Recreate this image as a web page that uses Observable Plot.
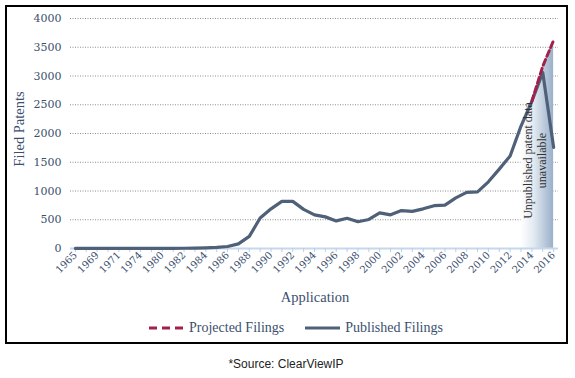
<!DOCTYPE html>
<html>
<head>
<meta charset="utf-8">
<script src="https://cdn.jsdelivr.net/npm/d3@7"></script>
<script src="https://cdn.jsdelivr.net/npm/@observablehq/plot@0.6"></script>
<style>
  html, body { margin: 0; padding: 0; background: #fff; }
  body { width: 575px; height: 378px; position: relative; overflow: hidden; }
  #frame { position: absolute; left: 5px; top: 5px; width: 563px; height: 339px; border: 2px solid #000; box-sizing: border-box; }
  #chart { position: absolute; left: 0; top: 0; }
  .lbl { position: absolute; font-family: "Liberation Serif", serif; color: #3b4f6e; white-space: nowrap; transform: translate(-50%, -50%); }
  #ylab { left: 19px; top: 129px; font-size: 14.5px; transform: translate(-50%, -50%) rotate(-90deg); }
  #xlab { left: 315px; top: 297px; font-size: 14.5px; }
  #legend { position: absolute; left: 149px; top: 320px; height: 16px; display: flex; align-items: center; font-family: "Liberation Serif", serif; font-size: 14px; color: #3b4f6e; }
  #legend svg { margin-right: 5px; }
  #caption { position: absolute; left: 286px; top: 364px; transform: translate(-50%, -50%); font-family: "Liberation Sans", sans-serif; font-size: 12px; color: #222; white-space: nowrap; }
</style>
</head>
<body>
<div id="frame"></div>
<div id="chart"></div>
<div class="lbl" id="ylab">Filed Patents</div>
<div class="lbl" id="xlab">Application</div>
<div id="legend"></div>
<div id="caption">*Source: ClearViewIP</div>
<script>
// ---- data ----
const years = ["1965","1967","1969","1970","1971","1973","1974","1977",
  "1980","1981","1982","1983","1984","1985","1986","1987","1988","1989",
  "1990","1991","1992","1993","1994","1995","1996","1997","1998","1999",
  "2000","2001","2002","2003","2004","2005","2006","2007","2008","2009",
  "2010","2011","2012","2013","2014","2015","2016"];
const published = [2,1,1,1,1,1,1,2,
  2,3,4,6,10,18,35,80,210,530,
  690,820,820,680,585,550,480,525,465,505,
  620,585,660,645,690,745,755,880,975,985,
  1160,1380,1610,2130,2560,3060,1760];
const projectedYears = ["2014","2015","2016"];
const projected = [2560,3170,3620];
const shadeYears = ["2013","2014","2015","2016"];
const shadeValues = [2130,2560,3170,3620];
const yTicks = [0,500,1000,1500,2000,2500,3000,3500,4000];
const xTickLabels = years.filter((d, i) => i % 2 === 0);
const seriesNames = ["Projected Filings", "Published Filings"];
const annotation = "Unpublished patent data\nunavailable";

// ---- tables ----
const pubData = years.map((y, i) => ({year: y, value: published[i]}));
const projData = projectedYears.map((y, i) => ({year: y, value: projected[i]}));
const shadeData = shadeYears.map((y, i) => ({year: y, value: shadeValues[i]}));
const gridData = yTicks.slice(1).map(v => ({value: v}));

const lineColor = "#4f6079";
const projColor = "#a3204a";
const textColor = "#3b4f6e";

const chart = Plot.plot({
  width: 575,
  height: 284,
  marginTop: 18,
  marginBottom: 36,
  marginLeft: 70,
  marginRight: 17,
  style: { fontFamily: "'DejaVu Serif', serif", color: textColor, background: "transparent" },
  x: { type: "point", domain: years, padding: 0.45, label: null },
  y: { domain: [0, 4000], label: null },
  marks: [
    Plot.ruleY(gridData, { y: "value", stroke: "#8c8c8c", strokeWidth: 1, strokeDasharray: "1,1.5" }),
    Plot.areaY(shadeData, { x: "year", y: "value", fill: "url(#shadeGrad)" }),
    Plot.ruleY([0], { stroke: "#c6d8ec", strokeWidth: 2 }),
    Plot.axisX({ ticks: years, tickSize: 4, stroke: "#b9cfe6", strokeOpacity: 1, tickFormat: () => "", label: null }),
    Plot.axisX({ ticks: xTickLabels, tickSize: 0, tickPadding: 5, tickRotate: -45, fontSize: 10, fill: textColor, label: null }),
    Plot.axisY({ ticks: yTicks, tickSize: 0, tickPadding: 9, fontSize: 11, fill: textColor, label: null, tickFormat: d => String(d) }),
    Plot.line(pubData, { x: "year", y: "value", stroke: lineColor, strokeWidth: 3.2, curve: "linear" }),
    Plot.line(projData, { x: "year", y: "value", stroke: projColor, strokeWidth: 3, strokeDasharray: "6,3.5" }),
    Plot.text([annotation], { x: () => "2014", y: () => 1530, text: d => d, rotate: -90, dx: 3,
      fontFamily: "'Liberation Serif', serif", fontSize: 12, fill: "#333", lineHeight: 1.1 })
  ]
});

const ns = "http://www.w3.org/2000/svg";
const defs = document.createElementNS(ns, "defs");
defs.innerHTML = '<linearGradient id="shadeGrad" x1="0" x2="1" y1="0" y2="0">' +
  '<stop offset="0" stop-color="#ffffff"/><stop offset="0.4" stop-color="#e3eaf2"/>' +
  '<stop offset="1" stop-color="#9ab0c9"/></linearGradient>';
chart.prepend(defs);
document.getElementById("chart").appendChild(chart);

// legend
const legend = document.getElementById("legend");
const swatch = (dash, color) => {
  const s = document.createElementNS(ns, "svg");
  s.setAttribute("width", 35); s.setAttribute("height", 6);
  const l = document.createElementNS(ns, "line");
  l.setAttribute("x1", 0); l.setAttribute("x2", 35); l.setAttribute("y1", 3); l.setAttribute("y2", 3);
  l.setAttribute("stroke", color); l.setAttribute("stroke-width", 3);
  if (dash) l.setAttribute("stroke-dasharray", dash);
  s.appendChild(l);
  return s;
};
[[seriesNames[0], "8,5", projColor], [seriesNames[1], null, lineColor]].forEach(([name, dash, color], i) => {
  const item = document.createElement("span");
  item.style.display = "flex"; item.style.alignItems = "center";
  if (i > 0) item.style.marginLeft = "21px";
  item.appendChild(swatch(dash, color));
  const t = document.createElement("span"); t.textContent = name;
  item.appendChild(t);
  legend.appendChild(item);
});
</script>
</body>
</html>
